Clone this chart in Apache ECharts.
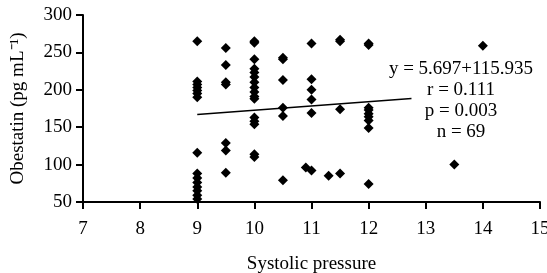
<!DOCTYPE html>
<html>
<head>
<meta charset="utf-8">
<title>Obestatin vs systolic pressure</title>
<script src="https://cdn.jsdelivr.net/npm/echarts@6/dist/echarts.min.js"></script>
<style>
  html, body { margin: 0; padding: 0; background: #fff; }
  #chart { width: 547px; height: 273px; }
</style>
</head>
<body>
<div id="chart"></div>
<script>
// x ticks / y ticks
const xTicks = [7, 8, 9, 10, 11, 12, 13, 14, 15];
const yTicks = [50, 100, 150, 200, 250, 300];

// scatter points, grouped by systolic pressure
const pts9 = [[9, 265], [9, 211], [9, 207], [9, 203], [9, 199], [9, 195], [9, 190], [9, 116],
  [9, 88], [9, 82], [9, 76], [9, 70], [9, 65], [9, 59], [9, 54]];
const pts95 = [[9.5, 256], [9.5, 233], [9.5, 210], [9.5, 207], [9.5, 129], [9.5, 119], [9.5, 89]];
const pts10 = [[10, 265], [10, 263], [10, 241], [10, 228], [10, 223], [10, 217], [10, 210], [10, 203],
  [10, 197], [10, 191], [10, 188], [10, 163], [10, 158], [10, 154], [10, 114], [10, 110]];
const pts105 = [[10.5, 243], [10.5, 241], [10.5, 213], [10.5, 176], [10.5, 165], [10.5, 79]];
const pts11 = [[11, 262], [11, 214], [11, 200], [11, 187], [11, 169], [10.9, 96], [11, 92],
  [11.3, 85], [11.5, 88]];
const pts115 = [[11.5, 267], [11.5, 265], [11.5, 174]];
const pts12 = [[12, 262], [12, 260], [12, 176], [12, 173], [12, 168], [12, 164], [12, 159], [12, 149], [12, 74]];
const ptsRight = [[13.5, 100], [14, 259]];

// fitted line ends (the rest is hidden under the text)
const fitLine = [[9, 167], [12.75, 188.5]];

const statsText = ['y = 5.697+115.935', 'r = 0.111', 'p = 0.003', 'n = 69'];

const allPts = [].concat(pts9, pts95, pts10, pts105, pts11, pts115, pts12, ptsRight);

const font = 'Liberation Serif';
const chart = echarts.init(document.getElementById('chart'));

chart.setOption({
  animation: false,
  backgroundColor: '#fff',
  grid: { left: 83, right: 7, top: 15, bottom: 71, outerBoundsMode: 'none', containLabel: false },
  xAxis: {
    type: 'value',
    min: xTicks[0],
    max: xTicks[xTicks.length - 1],
    interval: 1,
    name: 'Systolic pressure',
    nameLocation: 'middle',
    nameGap: 53,
    nameTextStyle: { fontFamily: font, fontSize: 19, color: '#000' },
    axisLine: { onZero: false, lineStyle: { color: '#000', width: 2 } },
    axisTick: { show: true, length: 7, lineStyle: { color: '#000', width: 2 } },
    axisLabel: { fontFamily: font, fontSize: 19, color: '#000', margin: 18 },
    splitLine: { show: false }
  },
  yAxis: {
    type: 'value',
    min: yTicks[0],
    max: yTicks[yTicks.length - 1],
    interval: 50,
    name: 'Obestatin (pg mL⁻¹)',
    nameLocation: 'middle',
    nameRotate: 90,
    nameGap: 55,
    nameTextStyle: { fontFamily: font, fontSize: 19, color: '#000' },
    axisLine: { show: true, onZero: false, lineStyle: { color: '#000', width: 2 } },
    axisTick: { show: true, length: 7, lineStyle: { color: '#000', width: 2 } },
    axisLabel: { fontFamily: font, fontSize: 19, color: '#000', margin: 11 },
    splitLine: { show: false }
  },
  series: [
    {
      type: 'scatter',
      data: allPts,
      symbol: 'diamond',
      symbolSize: 10,
      itemStyle: { color: '#000', opacity: 1 }
    },
    {
      type: 'line',
      data: fitLine,
      symbol: 'none',
      lineStyle: { color: '#000', width: 1.5 }
    }
  ],
  graphic: [{
    type: 'text',
    x: 461,
    y: 59,
    style: {
      text: statsText.join('\n'),
      font: '19px "Liberation Serif"',
      fill: '#000',
      align: 'center',
      verticalAlign: 'top',
      lineHeight: 21
    }
  }]
});
</script>
</body>
</html>
